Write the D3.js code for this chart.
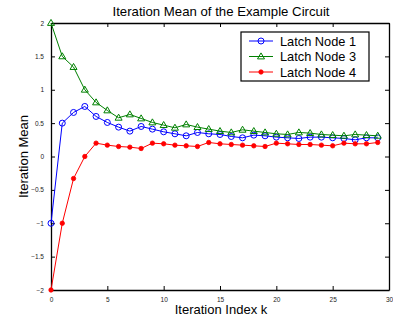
<!DOCTYPE html>
<html>
<head>
<meta charset="utf-8">
<script src="https://cdn.jsdelivr.net/npm/d3@7"></script>
<style>
  body { margin: 0; background: #fff; }
  text { font-family: "Liberation Sans", Arial, sans-serif; }
</style>
</head>
<body>
<div id="chart"></div>
<script>
// iteration index k = 0..29
const iters = d3.range(0, 30);

const node1 = [-1, 0.5, 0.66, 0.75, 0.6, 0.51, 0.44, 0.38, 0.45, 0.41,
  0.37, 0.34, 0.31, 0.36, 0.34, 0.33, 0.3, 0.28, 0.32, 0.31,
  0.29, 0.28, 0.27, 0.29, 0.29, 0.28, 0.27, 0.25, 0.28, 0.28];
const node3 = [2, 1.5, 1.34, 1.0, 0.81, 0.69, 0.58, 0.63, 0.57, 0.51,
  0.47, 0.43, 0.48, 0.44, 0.41, 0.38, 0.36, 0.4, 0.38, 0.36,
  0.34, 0.33, 0.36, 0.35, 0.33, 0.32, 0.31, 0.33, 0.32, 0.31];
const node4 = [-2, -1, -0.33, 0, 0.2, 0.17, 0.15, 0.14, 0.12, 0.2,
  0.19, 0.17, 0.16, 0.15, 0.21, 0.19, 0.18, 0.17, 0.16, 0.15,
  0.2, 0.19, 0.18, 0.18, 0.17, 0.16, 0.2, 0.19, 0.19, 0.21];

const seriesNames = ["Latch Node 1", "Latch Node 3", "Latch Node 4"];
const seriesColors = ["#0000ff", "#008000", "#ff0000"];
const xTicks = [0, 5, 10, 15, 20, 25, 30];
const yTicks = [-2, -1.5, -1, -0.5, 0, 0.5, 1, 1.5, 2];

const width = 393, height = 320;
const pLeft = 51, pRight = 389, pTop = 23, pBottom = 290;

const svg = d3.select("#chart").append("svg")
  .attr("width", width).attr("height", height);

const x = d3.scaleLinear().domain([0, 30]).range([pLeft, pRight]);
const y = d3.scaleLinear().domain([-2, 2]).range([pBottom, pTop]);

const fmt = d => d3.format("")(d).replace("-", "\u2212");

// axes, matlab style with inward ticks on all sides
svg.append("g").attr("transform", `translate(0,${pBottom})`)
  .call(d3.axisBottom(x).tickValues(xTicks).tickSizeInner(-4).tickSizeOuter(0).tickPadding(7).tickFormat(fmt));
svg.append("g").attr("transform", `translate(0,${pTop})`)
  .call(d3.axisTop(x).tickValues(xTicks).tickSizeInner(-4).tickSizeOuter(0).tickFormat(""));
svg.append("g").attr("transform", `translate(${pLeft},0)`)
  .call(d3.axisLeft(y).tickValues(yTicks).tickSizeInner(-4).tickSizeOuter(0).tickPadding(7).tickFormat(fmt));
svg.append("g").attr("transform", `translate(${pRight},0)`)
  .call(d3.axisRight(y).tickValues(yTicks).tickSizeInner(-4).tickSizeOuter(0).tickFormat(""));

svg.selectAll(".domain").attr("stroke", "#000").attr("stroke-width", 1.3);
svg.selectAll(".tick line").attr("stroke", "#000");
svg.selectAll(".tick text").attr("font-size", 6.5).attr("fill", "#222");

const allSeries = [node1, node3, node4];
const line = d3.line().x((d, i) => x(iters[i])).y(d => y(d));

allSeries.forEach((vals, s) => {
  const g = svg.append("g");
  g.append("path").datum(vals)
    .attr("d", line).attr("fill", "none")
    .attr("stroke", seriesColors[s]).attr("stroke-width", 1);
  drawMarkers(g, vals.map((v, i) => [x(iters[i]), y(v)]), s);
});

function drawMarkers(g, pts, s) {
  const c = seriesColors[s];
  if (s === 0) {
    g.selectAll("circle").data(pts).enter().append("circle")
      .attr("cx", d => d[0]).attr("cy", d => d[1]).attr("r", 3)
      .attr("fill", "none").attr("stroke", c).attr("stroke-width", 1);
  } else if (s === 1) {
    g.selectAll("path.m").data(pts).enter().append("path").attr("class", "m")
      .attr("d", d => `M${d[0]},${d[1] - 3.6}L${d[0] + 3.5},${d[1] + 2.4}L${d[0] - 3.5},${d[1] + 2.4}Z`)
      .attr("fill", "none").attr("stroke", c).attr("stroke-width", 1);
  } else {
    g.selectAll("circle").data(pts).enter().append("circle")
      .attr("cx", d => d[0]).attr("cy", d => d[1]).attr("r", 2.2)
      .attr("fill", c).attr("stroke", c).attr("stroke-width", 0.8);
  }
}

// legend
const lg = svg.append("g");
lg.append("rect").attr("x", 241).attr("y", 32).attr("width", 128).attr("height", 49)
  .attr("fill", "#fff").attr("stroke", "#000").attr("stroke-width", 1.2);
seriesNames.forEach((name, s) => {
  const ly = 41 + s * 15.5;
  lg.append("line").attr("x1", 249).attr("x2", 273).attr("y1", ly).attr("y2", ly)
    .attr("stroke", seriesColors[s]).attr("stroke-width", 1);
  drawMarkers(lg.append("g"), [[261, ly]], s);
  lg.append("text").attr("x", 280).attr("y", ly + 4.5).attr("font-size", 12.8).text(name);
});

// labels
svg.append("text").attr("x", 221).attr("y", 16).attr("text-anchor", "middle")
  .attr("font-size", 13.2).text("Iteration Mean of the Example Circuit");
svg.append("text").attr("x", 221).attr("y", 314).attr("text-anchor", "middle")
  .attr("font-size", 13).text("Iteration Index k");
svg.append("text").attr("transform", `translate(28,${(pTop + pBottom) / 2}) rotate(-90)`)
  .attr("text-anchor", "middle").attr("font-size", 13).text("Iteration Mean");
</script>
</body>
</html>
